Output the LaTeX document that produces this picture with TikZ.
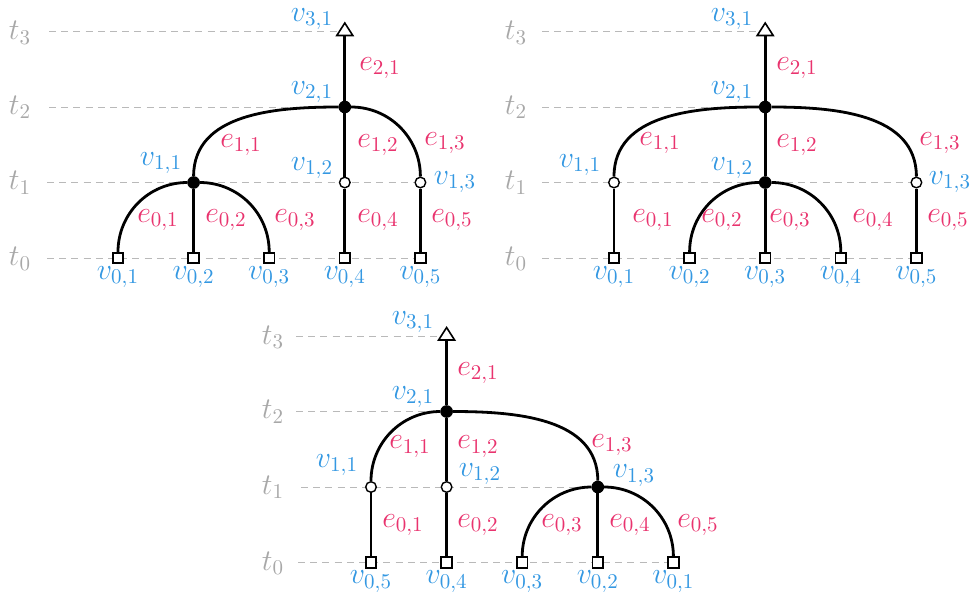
\documentclass[tikz,border=0pt]{standalone}
\usepackage{fix-cm}
\usetikzlibrary{calc,backgrounds}
\definecolor{vblue}{RGB}{52,152,226}
\definecolor{epink}{RGB}{233,51,110}
\definecolor{tgray}{RGB}{168,168,168}
\definecolor{dgray}{RGB}{185,185,185}
\tikzset{
  edge/.style={line width=1.4pt},
  full/.style={circle, fill=black, draw=black, line width=0.5pt, inner sep=0pt, minimum size=5.8pt},
  hollow/.style={circle, fill=white, draw=black, line width=0.7pt, inner sep=0pt, minimum size=5.3pt},
  leaf/.style={rectangle, fill=white, draw=black, line width=0.85pt, inner sep=0pt, minimum size=5.3pt},
  vlab/.style={text=vblue, inner sep=0pt},
  elab/.style={text=epink, inner sep=0pt},
  tlab/.style={text=tgray, inner sep=0pt},
  level/.style={draw=dgray, dash pattern=on 3.5pt off 2.6pt, line width=0.5pt},
  tiptri/.style={fill=white, draw=black, line width=0.8pt, line join=miter}
}
\begin{document}
\begin{tikzpicture}[x=0.5pt,y=-0.5pt,font=\fontsize{15}{18}\selectfont]
\useasboundingbox (0,0) rectangle (974,601);

%% ================= panel A =================
\begin{scope}
\node[tlab] (a-t3) at (20,33) {$t_3$};
\node[tlab] (a-t2) at (20,107.5) {$t_2$};
\node[tlab] (a-t1) at (20,183) {$t_1$};
\node[tlab] (a-t0) at (20,259) {$t_0$};
\coordinate (a-s3) at (49,31.5);
\coordinate (a-s2) at (49,107);
\coordinate (a-s1) at (47,182.5);
\coordinate (a-s0) at (47,258);
\node[leaf] (a-l1) at (118,258) {};
\node[leaf] (a-l2) at (193.6,258) {};
\node[leaf] (a-l3) at (269.2,258) {};
\node[leaf] (a-l4) at (344.8,258) {};
\node[leaf] (a-l5) at (420.4,258) {};
\node[full] (a-v11) at (193.6,182.5) {};
\node[hollow] (a-v12) at (344.8,182.5) {};
\node[hollow] (a-v13) at (420.4,182.5) {};
\node[full] (a-v21) at (344.8,107) {};
\coordinate (a-v31) at (344.8,35.5);
\begin{pgfonlayer}{background}
\draw[level] (a-s3) -- (a-v31 |- a-s3);
\draw[level] (a-s2) -- (a-v21);
\draw[level] (a-s1) -- (a-v13);
\draw[level] (a-s0) -- (a-l5);
\end{pgfonlayer}
\draw[edge] (a-l1) to[out=90,in=180] (a-v11);
\draw[edge] (a-l2) -- (a-v11);
\draw[edge] (a-l3) to[out=90,in=0] (a-v11);
\draw[edge] (a-l4) -- (a-v12);
\draw[edge] (a-l5) -- (a-v13);
\draw[edge] (a-v11) to[out=90,in=180] (a-v21);
\draw[edge] (a-v12) -- (a-v21);
\draw[edge] (a-v13) to[out=90,in=0] (a-v21);
\draw[edge] (a-v21) -- (a-v31);
\draw[tiptri] ($(a-v31)+(-8,0)$) -- ($(a-v31)+(8,0)$) -- ($(a-v31)+(0,-12.5)$) -- cycle;
\node[vlab] (a-n31) at (312,19) {$v_{3,1}$};
\node[vlab] (a-n21) at (312,92) {$v_{2,1}$};
\node[vlab] (a-n11) at (161,163) {$v_{1,1}$};
\node[vlab] (a-n12) at (312,168) {$v_{1,2}$};
\node[vlab] (a-n13) at (455,182) {$v_{1,3}$};
\node[vlab] (a-n01) at (118,277) {$v_{0,1}$};
\node[vlab] (a-n02) at (193.6,277) {$v_{0,2}$};
\node[vlab] (a-n03) at (269.2,277) {$v_{0,3}$};
\node[vlab] (a-n04) at (344.8,277) {$v_{0,4}$};
\node[vlab] (a-n05) at (420.4,277) {$v_{0,5}$};
\node[elab] (a-e21) at (380,68) {$e_{2,1}$};
\node[elab] (a-e11) at (241,145) {$e_{1,1}$};
\node[elab] (a-e12) at (378,145) {$e_{1,2}$};
\node[elab] (a-e13) at (445,143) {$e_{1,3}$};
\node[elab] (a-e01) at (158,220) {$e_{0,1}$};
\node[elab] (a-e02) at (226,220) {$e_{0,2}$};
\node[elab] (a-e03) at (295,220) {$e_{0,3}$};
\node[elab] (a-e04) at (378,220) {$e_{0,4}$};
\node[elab] (a-e05) at (452,220) {$e_{0,5}$};
\end{scope}

%% ================= panel B =================
\begin{scope}[shift={(496,0)}]
\node[tlab] (b-t3) at (20,33) {$t_3$};
\node[tlab] (b-t2) at (20,107.5) {$t_2$};
\node[tlab] (b-t1) at (20,183) {$t_1$};
\node[tlab] (b-t0) at (20,259) {$t_0$};
\coordinate (b-s3) at (46,31.5);
\coordinate (b-s2) at (46,107);
\coordinate (b-s1) at (46,182.5);
\coordinate (b-s0) at (46,258);
\node[leaf] (b-l1) at (118,258) {};
\node[leaf] (b-l2) at (193.6,258) {};
\node[leaf] (b-l3) at (269.2,258) {};
\node[leaf] (b-l4) at (344.8,258) {};
\node[leaf] (b-l5) at (420.4,258) {};
\node[hollow] (b-v11) at (118,182.5) {};
\node[full] (b-v12) at (269.2,182.5) {};
\node[hollow] (b-v13) at (420.4,182.5) {};
\node[full] (b-v21) at (269.2,107) {};
\coordinate (b-v31) at (269.2,35.5);
\begin{pgfonlayer}{background}
\draw[level] (b-s3) -- (b-v31 |- b-s3);
\draw[level] (b-s2) -- (b-v21);
\draw[level] (b-s1) -- (b-v13);
\draw[level] (b-s0) -- (b-l5);
\end{pgfonlayer}
\draw[edge] (b-l1) -- (b-v11);
\draw[edge] (b-l2) to[out=90,in=180] (b-v12);
\draw[edge] (b-l3) -- (b-v12);
\draw[edge] (b-l4) to[out=90,in=0] (b-v12);
\draw[edge] (b-l5) -- (b-v13);
\draw[edge] (b-v11) to[out=90,in=180] (b-v21);
\draw[edge] (b-v12) -- (b-v21);
\draw[edge] (b-v13) to[out=90,in=0] (b-v21);
\draw[edge] (b-v21) -- (b-v31);
\draw[tiptri] ($(b-v31)+(-8,0)$) -- ($(b-v31)+(8,0)$) -- ($(b-v31)+(0,-12.5)$) -- cycle;
\node[vlab] (b-n31) at (236,19) {$v_{3,1}$};
\node[vlab] (b-n21) at (236,92) {$v_{2,1}$};
\node[vlab] (b-n11) at (84,165) {$v_{1,1}$};
\node[vlab] (b-n12) at (236,168) {$v_{1,2}$};
\node[vlab] (b-n13) at (454,182) {$v_{1,3}$};
\node[vlab] (b-n01) at (118,277) {$v_{0,1}$};
\node[vlab] (b-n02) at (193.6,277) {$v_{0,2}$};
\node[vlab] (b-n03) at (269.2,277) {$v_{0,3}$};
\node[vlab] (b-n04) at (344.8,277) {$v_{0,4}$};
\node[vlab] (b-n05) at (420.4,277) {$v_{0,5}$};
\node[elab] (b-e21) at (301,68) {$e_{2,1}$};
\node[elab] (b-e11) at (164,143) {$e_{1,1}$};
\node[elab] (b-e12) at (301,145) {$e_{1,2}$};
\node[elab] (b-e13) at (444,143) {$e_{1,3}$};
\node[elab] (b-e01) at (157,220) {$e_{0,1}$};
\node[elab] (b-e02) at (226,220) {$e_{0,2}$};
\node[elab] (b-e03) at (294,220) {$e_{0,3}$};
\node[elab] (b-e04) at (377,220) {$e_{0,4}$};
\node[elab] (b-e05) at (452,220) {$e_{0,5}$};
\end{scope}

%% ================= panel C =================
\begin{scope}[shift={(253,304.5)}]
\node[tlab] (c-t3) at (20,33) {$t_3$};
\node[tlab] (c-t2) at (20,107.5) {$t_2$};
\node[tlab] (c-t1) at (20,183) {$t_1$};
\node[tlab] (c-t0) at (20,259) {$t_0$};
\coordinate (c-s3) at (43,31.5);
\coordinate (c-s2) at (43,107);
\coordinate (c-s1) at (48,182.5);
\coordinate (c-s0) at (45,258);
\node[leaf] (c-l1) at (118,258) {};
\node[leaf] (c-l2) at (193.6,258) {};
\node[leaf] (c-l3) at (269.2,258) {};
\node[leaf] (c-l4) at (344.8,258) {};
\node[leaf] (c-l5) at (420.4,258) {};
\node[hollow] (c-v11) at (118,182.5) {};
\node[hollow] (c-v12) at (193.6,182.5) {};
\node[full] (c-v13) at (344.8,182.5) {};
\node[full] (c-v21) at (193.6,107) {};
\coordinate (c-v31) at (193.6,35.5);
\begin{pgfonlayer}{background}
\draw[level] (c-s3) -- (c-v31 |- c-s3);
\draw[level] (c-s2) -- (c-v21);
\draw[level] (c-s1) -- (c-v13);
\draw[level] (c-s0) -- (c-l5);
\end{pgfonlayer}
\draw[edge] (c-l1) -- (c-v11);
\draw[edge] (c-l2) -- (c-v12);
\draw[edge] (c-l3) to[out=90,in=180] (c-v13);
\draw[edge] (c-l4) -- (c-v13);
\draw[edge] (c-l5) to[out=90,in=0] (c-v13);
\draw[edge] (c-v11) to[out=90,in=180] (c-v21);
\draw[edge] (c-v12) -- (c-v21);
\draw[edge] (c-v13) to[out=90,in=0] (c-v21);
\draw[edge] (c-v21) -- (c-v31);
\draw[tiptri] ($(c-v31)+(-8,0)$) -- ($(c-v31)+(8,0)$) -- ($(c-v31)+(0,-12.5)$) -- cycle;
\node[vlab] (c-n31) at (160,17.5) {$v_{3,1}$};
\node[vlab] (c-n21) at (160,92.5) {$v_{2,1}$};
\node[vlab] (c-n11) at (84,160.5) {$v_{1,1}$};
\node[vlab] (c-n12) at (227,169.5) {$v_{1,2}$};
\node[vlab] (c-n13) at (381,171) {$v_{1,3}$};
\node[vlab] (c-n05) at (118,277) {$v_{0,5}$};
\node[vlab] (c-n04) at (193.6,277) {$v_{0,4}$};
\node[vlab] (c-n03) at (269.2,277) {$v_{0,3}$};
\node[vlab] (c-n02) at (344.8,277) {$v_{0,2}$};
\node[vlab] (c-n01) at (420.4,277) {$v_{0,1}$};
\node[elab] (c-e21) at (225,68.5) {$e_{2,1}$};
\node[elab] (c-e11) at (157,142) {$e_{1,1}$};
\node[elab] (c-e12) at (225,142) {$e_{1,2}$};
\node[elab] (c-e13) at (359,140.5) {$e_{1,3}$};
\node[elab] (c-e01) at (150,220.5) {$e_{0,1}$};
\node[elab] (c-e02) at (225,220.5) {$e_{0,2}$};
\node[elab] (c-e03) at (309,220.5) {$e_{0,3}$};
\node[elab] (c-e04) at (377,220.5) {$e_{0,4}$};
\node[elab] (c-e05) at (445,220.5) {$e_{0,5}$};
\end{scope}
\end{tikzpicture}
\end{document}
